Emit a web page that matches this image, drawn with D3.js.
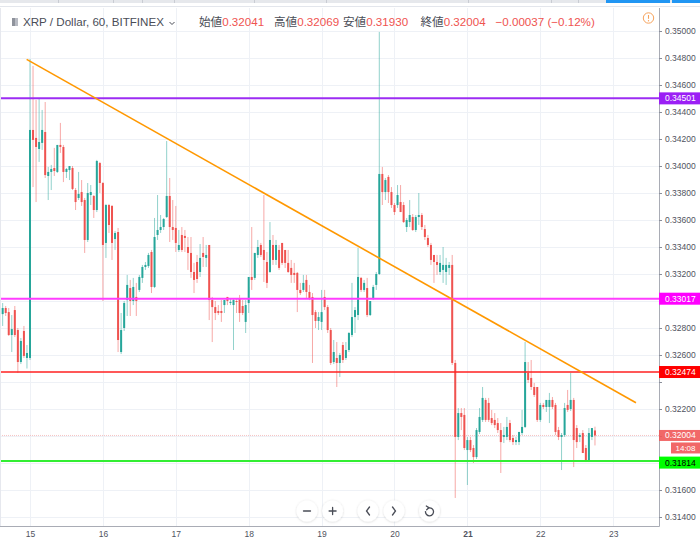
<!DOCTYPE html>
<html><head><meta charset="utf-8">
<script src="https://cdn.jsdelivr.net/npm/d3@7"></script>
<style>body{margin:0;background:#fff;overflow:hidden}svg{display:block}</style>
</head><body><svg id="c" width="700" height="545"></svg>
<script>
// ---------- DATA ----------
const startHour = -9; // hours relative to day 15 00:00 (first candle 14th 15:00)
const ohlc = [
[.32903,.32985,.32815,.32948],[.32948,.32963,.32889,.32911],[.32918,.32948,.32741,.32748],[.32748,.32896,.32622,.32792],
[.32933,.32963,.32733,.32748],[.32785,.32800,.32467,.32548],[.32548,.32726,.32533,.32704],[.32778,.32815,.32578,.32593],
[.32578,.32674,.32500,.32615],
[.32578,.34793,.32563,.34267],[.34267,.34741,.33844,.34193],[.34208,.34489,.33733,.34141],[.34126,.34496,.34030,.34178],
[.34171,.34415,.34119,.34267],[.34252,.34474,.33911,.33933],[.33926,.33993,.33748,.33956],[.33956,.34008,.33822,.33978],
[.33985,.34134,.33926,.33963],[.33956,.34156,.33948,.34156],[.34156,.34319,.34097,.34141],[.34141,.34156,.33881,.33956],
[.33956,.33985,.33911,.33978],[.33970,.33985,.33896,.34000],[.33985,.34000,.33822,.33830],[.33822,.33837,.33674,.33733],
[.33763,.33956,.33748,.33793],[.33807,.33896,.33704,.33733],[.33748,.33763,.33356,.33452],[.33452,.33874,.33437,.33800],
[.33785,.33859,.33711,.33807],[.33778,.33785,.33615,.33674],[.33674,.34045,.33659,.34037],[.34022,.34030,.33800,.33874],
[.33874,.33881,.33000,.33415],[.33430,.33719,.33319,.33711],[.33711,.33719,.33504,.33563],[.33704,.33711,.33304,.33430],
[.33459,.33519,.33378,.33504],[.33511,.33541,.32622,.32711],[.32622,.32911,.32607,.32785],[.32800,.33000,.32778,.32985],
[.33007,.33193,.32889,.33119],[.33096,.33156,.32889,.33000],[.33000,.33171,.32970,.33104],[.33030,.33134,.32889,.33000],
[.33082,.33193,.33067,.33178],[.33171,.33267,.33134,.33252],[.33252,.33289,.33230,.33267],[.33259,.33356,.33245,.33341],
[.33363,.33378,.33059,.33104],[.33104,.33615,.33096,.33474],[.33489,.33785,.33452,.33526],[.33526,.33637,.33504,.33548],
[.33548,.33615,.33526,.33607],[.33622,.34185,.33615,.33778],[.33778,.33911,.33437,.33548],[.33548,.33748,.33452,.33526],
[.33541,.33704,.33363,.33430],[.33378,.33526,.33363,.33415],[.33489,.33548,.33363,.33378],[.33482,.33526,.33363,.33467],
[.33400,.33474,.33230,.33356],[.33356,.33474,.33171,.33215],[.33215,.33282,.33059,.33156],[.33289,.33341,.33134,.33163],
[.33215,.33422,.33178,.33319],[.33356,.33474,.33252,.33326],[.33319,.33415,.33252,.33341],[.33415,.33415,.32859,.33007],
[.33007,.33030,.32696,.32955],[.32955,.33000,.32859,.32911],[.32926,.32970,.32896,.32911],[.32926,.33007,.32845,.32911],
[.32970,.33007,.32911,.33007],[.33030,.33030,.32970,.33000],[.32985,.33022,.32970,.32993],[.32970,.33022,.32637,.33007],
[.33000,.33022,.32911,.32993],[.33022,.33045,.32845,.32911],[.32963,.33007,.32896,.32911],[.32845,.33007,.32763,.32970],
[.32985,.33104,.32911,.33178],[.33178,.33548,.33082,.33156],[.33171,.33356,.33156,.33356],[.33341,.33452,.33319,.33400],
[.33415,.33430,.33326,.33341],[.33378,.33785,.33141,.33304],[.33289,.33363,.33096,.33134],[.33215,.33585,.33208,.33452],
[.33415,.33489,.33267,.33304],[.33304,.33452,.33267,.33415],[.33378,.33415,.33230,.33245],[.33430,.33430,.33267,.33282],
[.33378,.33378,.33245,.33282],[.33282,.33378,.33208,.33215],[.33245,.33304,.33134,.33193],[.33208,.33282,.33134,.33193],
[.33208,.33215,.32918,.33082],[.33082,.33134,.33045,.33059],[.33082,.33193,.33067,.33134],[.33156,.33193,.33022,.33067],
[.33067,.33119,.33007,.33022],[.33030,.33059,.32541,.32896],[.32918,.32933,.32800,.32852],[.32852,.32918,.32785,.32881],
[.32845,.33082,.32785,.32918],[.33030,.33082,.32933,.32955],[.32955,.32970,.32763,.32785],[.32785,.32800,.32526,.32541],
[.32548,.32711,.32533,.32622],[.32578,.32696,.32363,.32541],[.32541,.32615,.32437,.32600],[.32674,.32696,.32541,.32563],
[.32578,.32696,.32563,.32637],[.32637,.32770,.32622,.32763],[.32748,.33134,.32733,.32881],[.32881,.32955,.32763,.32933],
[.32896,.33393,.32859,.33178],[.33171,.33178,.33067,.33082],[.33082,.33156,.33067,.33134],[.33096,.33171,.32881,.32896],
[.32896,.32970,.32889,.33000],[.33022,.33119,.33007,.33104],[.33119,.33215,.33082,.33200],
[.33200,.34993,.33193,.33941],[.33941,.33993,.33711,.33807],[.33807,.33911,.33748,.33896],[.33919,.33933,.33726,.33807],
[.33807,.33844,.33689,.33711],[.33711,.33726,.33637,.33659],[.33711,.33859,.33689,.33785],[.33733,.33859,.33659,.33659],
[.33711,.33733,.33578,.33585],[.33548,.33615,.33511,.33600],[.33585,.33748,.33548,.33637],[.33622,.33644,.33519,.33526],
[.33526,.33637,.33511,.33622],[.33622,.33800,.33563,.33637],[.33637,.33652,.33526,.33548],[.33533,.33563,.33452,.33474],
[.33467,.33489,.33400,.33415],[.33415,.33430,.33267,.33304],[.33341,.33341,.33134,.33289],[.33289,.33341,.33193,.33267],
[.33215,.33341,.33193,.33282],[.33230,.33400,.33134,.33267],[.33215,.33319,.33119,.33267],[.33245,.33289,.33193,.33267],
[.33267,.33341,.32526,.32541],[.32541,.32563,.31541,.31993],
[.31993,.32207,.31970,.32170],[.32170,.32207,.32044,.32141],[.32156,.32207,.31896,.31911],[.31896,.31993,.31637,.31970],
[.31970,.31993,.31881,.31896],[.31911,.31933,.31800,.31844],[.31844,.32059,.31830,.32044],[.32030,.32207,.32015,.32141],
[.32119,.32363,.32104,.32282],[.32267,.32282,.32104,.32119],[.32245,.32282,.32104,.32119],[.32133,.32193,.32081,.32096],
[.32119,.32170,.32059,.32081],[.32096,.32133,.32022,.32044],[.32044,.32096,.31726,.31955],[.31993,.32067,.31948,.32007],
[.31993,.32141,.31970,.32067],[.32096,.32119,.31955,.31970],[.31985,.32007,.31933,.31955],[.31955,.31993,.31933,.31970],
[.31955,.32030,.31933,.32030],[.32022,.32193,.32007,.32067],
[.32067,.32696,.32059,.32548],[.32467,.32548,.32393,.32415],[.32430,.32563,.32341,.32363],[.32363,.32393,.32289,.32304],
[.32363,.32363,.32104,.32119],[.32119,.32245,.32104,.32230],[.32230,.32245,.32200,.32215],[.32215,.32267,.32178,.32267],
[.32215,.32319,.32096,.32267],[.32267,.32289,.32200,.32215],[.32230,.32245,.32007,.32030],[.32044,.32067,.31970,.31993],
[.31993,.32022,.31748,.32007],[.32007,.32245,.31993,.32207],[.32230,.32341,.32178,.32193],[.32200,.32467,.32185,.32267],
[.32267,.32282,.31770,.31970],[.32059,.32081,.31911,.31955],[.31993,.32022,.31955,.32007],[.32022,.32044,.31874,.31874],
[.31911,.31933,.31807,.31822],[.31822,.32059,.31807,.32022],[.31993,.32059,.31970,.32059],
[.32041,.32069,.31930,.32004]
];
const dayHours = [0,24,48,72,96,120,144,168,192];
const dayLabels = ["15","16","17","18","19","20","21","22","23"];
const priceTicks = [0.350,0.348,0.346,0.344,0.342,0.340,0.338,0.336,0.334,0.332,0.330,0.328,0.326,0.324,0.322,0.320,0.318,0.316,0.314];
const levelValues = [0.34501, 0.33017, 0.32474, 0.31814];
const trendPoints = [[-1.1, 0.34790], [199.5, 0.32246]];
const lastPrice = 0.32004;
const countdown = "14:08";
const headerTitle = "XRP / Dollar, 60, BITFINEX";
const headerNames = ["始値","高値","安値","終値"];
const headerValues = ["0.32041","0.32069","0.31930","0.32004"];
const headerChange = "\u22120.00037 (\u22120.12%)";

// ---------- STYLE ----------
const levelColors = ["#9c2cf3","#ff3dff","#ff2020","#33ee33"];
const labelFills = ["#9b1ff5","#ff00ff","#ff0000","#00ff00"];
const labelText = ["#fff","#fff","#fff","#000"];
const labelShift = [0,0,0,1.5];
const levelWidths = [2,2,1.6,2];
const UP="#26a69a", DOWN="#ef5350";

const svg = d3.select("#c");
const PL=0, PR=659, PT=8, PB=526;
const x = d3.scaleLinear().domain([-9.877, 207.08]).range([0, 659]);
const y = d3.scaleLinear().domain([0.314, 0.350]).range([517, 31]);

svg.append("defs").html(`<clipPath id="clip"><rect x="${PL}" y="${PT}" width="${PR-PL}" height="${PB-PT}"/></clipPath>
<filter id="sh" x="-50%" y="-50%" width="200%" height="200%"><feDropShadow dx="0" dy="0.5" stdDeviation="1.2" flood-color="#000" flood-opacity="0.18"/></filter>`);

// top strip
svg.append("rect").attr("x",0).attr("y",0).attr("width",700).attr("height",3).attr("fill","#e6e8ec");
[58,113,142,174,254,326,468,551,578].forEach(v=>svg.append("rect").attr("x",v).attr("y",0).attr("width",1).attr("height",3).attr("fill","#c9ccd3"));
svg.append("rect").attr("x",606).attr("y",0).attr("width",64).attr("height",3).attr("fill","#2196f3");
svg.append("rect").attr("x",672).attr("y",0).attr("width",28).attr("height",3).attr("fill","#2196f3");
svg.append("line").attr("x1",0).attr("x2",700).attr("y1",6.5).attr("y2",6.5).attr("stroke","#e3e6ec");

const plot = svg.append("g").attr("clip-path","url(#clip)");
// grid
plot.selectAll("line.hg").data(priceTicks).join("line").attr("class","hg")
  .attr("x1",PL).attr("x2",PR).attr("y1",d=>Math.round(y(d))+0.5).attr("y2",d=>Math.round(y(d))+0.5)
  .attr("stroke","#eef1f6");
plot.selectAll("line.vg").data(dayHours).join("line").attr("class","vg")
  .attr("y1",PT).attr("y2",PB).attr("x1",d=>Math.round(x(d))+0.5).attr("x2",d=>Math.round(x(d))+0.5)
  .attr("stroke","#eef1f6");

// current price dotted line
plot.append("line").attr("x1",PL).attr("x2",PR).attr("y1",y(lastPrice)).attr("y2",y(lastPrice))
  .attr("stroke","#f4b4b4").attr("stroke-dasharray","1,1").attr("opacity",0.8);

// candles
const candles = ohlc.map((d,i)=>({t:startHour+i,o:d[0],h:d[1],l:d[2],c:d[3]}));
plot.selectAll("line.wick").data(candles).join("line").attr("class","wick")
  .attr("x1",d=>x(d.t)).attr("x2",d=>x(d.t)).attr("y1",d=>y(d.h)).attr("y2",d=>y(d.l))
  .attr("stroke",d=>d.c>=d.o?UP:DOWN).attr("stroke-opacity",0.5).attr("stroke-width",1);
plot.selectAll("rect.body").data(candles).join("rect").attr("class","body")
  .attr("x",d=>x(d.t)-1).attr("width",2)
  .attr("y",d=>y(Math.max(d.o,d.c)))
  .attr("height",d=>Math.max(1,Math.abs(y(d.o)-y(d.c))))
  .attr("fill",d=>d.c>=d.o?UP:DOWN);

// level lines
plot.selectAll("line.lvl").data(levelValues).join("line").attr("class","lvl")
  .attr("x1",PL).attr("x2",PR).attr("y1",d=>y(d)).attr("y2",d=>y(d))
  .attr("stroke",(d,i)=>levelColors[i]).attr("stroke-width",(d,i)=>levelWidths[i]);

// trend line
plot.append("path").datum(trendPoints)
  .attr("d",d3.line().x(d=>x(d[0])).y(d=>y(d[1])))
  .attr("stroke","#ff9800").attr("stroke-width",1.6).attr("fill","none");

// borders
svg.append("line").attr("x1",0.5).attr("x2",0.5).attr("y1",PT).attr("y2",PB).attr("stroke","#e6e8ee");
svg.append("line").attr("x1",PR+0.5).attr("x2",PR+0.5).attr("y1",PT).attr("y2",PB+0.5).attr("stroke","#a9acb5");
svg.append("line").attr("x1",0).attr("x2",PR+0.5).attr("y1",PB+0.5).attr("y2",PB+0.5).attr("stroke","#a9acb5");

// price axis (tick labels hidden where a price label covers them, as on the reference)
const covered = v => levelValues.concat([lastPrice]).some(l => Math.abs(y(l)-y(v)) < 11);
const yAxis = d3.axisRight(y).tickValues(priceTicks).tickFormat(d3.format(".5f")).tickSize(3).tickPadding(3);
const ya = svg.append("g").attr("transform",`translate(${PR},0)`).call(yAxis);
ya.select(".domain").remove();
ya.selectAll(".tick line").attr("stroke","#8a8e99");
ya.selectAll(".tick text").attr("font-family","Liberation Sans, Arial, sans-serif").attr("font-size","8.5px").attr("fill","#50535e")
  .style("display",d=>covered(d)?"none":null);

// time axis
const xAxis = d3.axisBottom(x).tickValues(dayHours).tickFormat((d,i)=>dayLabels[i]).tickSize(0).tickPadding(5);
const xa = svg.append("g").attr("transform",`translate(0,${PB})`).call(xAxis);
xa.select(".domain").remove();
xa.selectAll(".tick text").attr("font-family","Liberation Sans, Arial, sans-serif").attr("font-size","8.5px").attr("fill","#50535e")
  .attr("font-weight",d=>d===144?"bold":"normal");

// level labels
levelValues.forEach((v,i)=>{
  const cy=y(v)+labelShift[i];
  svg.append("rect").attr("x",PR).attr("y",cy-6).attr("width",41).attr("height",12).attr("fill",labelFills[i]);
  svg.append("text").attr("x",PR+6).attr("y",cy+3).text(d3.format(".5f")(v))
    .attr("font-family","Liberation Sans, Arial, sans-serif").attr("font-size","8.5px").attr("fill",labelText[i]);
});
// last price label + countdown
{
  const cy=y(lastPrice);
  svg.append("rect").attr("x",PR).attr("y",cy-5.5).attr("width",41).attr("height",11).attr("fill","#ef5858").attr("opacity",0.9);
  svg.append("text").attr("x",PR+6).attr("y",cy+3).text(d3.format(".5f")(lastPrice))
    .attr("font-family","Liberation Sans, Arial, sans-serif").attr("font-size","8.5px").attr("fill","#fff");
  svg.append("rect").attr("x",671).attr("y",cy+7).attr("width",29).attr("height",11).attr("fill","#ef5858").attr("opacity",0.9);
  svg.append("text").attr("x",685.5).attr("y",cy+15.5).attr("text-anchor","middle").text(countdown)
    .attr("font-family","Liberation Sans, Arial, sans-serif").attr("font-size","8px").attr("fill","#fff");
}

// header
const hf = "Liberation Sans, Arial, 'Noto Sans CJK JP', sans-serif";
svg.append("rect").attr("x",12).attr("y",18).attr("width",6).attr("height",8).attr("fill","#b8bbc3");
svg.append("rect").attr("x",12).attr("y",18).attr("width",3).attr("height",8).attr("fill","#8f939c");
svg.append("text").attr("x",23).attr("y",26).text(headerTitle).attr("font-family",hf).attr("font-size","11.6px").attr("fill","#4a4d57");
svg.append("path").attr("d","M169.5,22 L172,24.5 L174.5,22").attr("stroke","#4a4d57").attr("fill","none").attr("stroke-width",1);
const hx=[199,274,343,420.5];
headerNames.forEach((n,i)=>{
  const t=svg.append("text").attr("x",hx[i]).attr("y",26).attr("font-size","11.6px").attr("font-family",hf);
  t.append("tspan").text(n).attr("fill","#4a4d57").attr("font-family","'Noto Sans CJK JP', sans-serif");
  t.append("tspan").text(headerValues[i]).attr("fill","#ef5350");
});
svg.append("text").attr("x",495.5).attr("y",26).text(headerChange).attr("font-family",hf).attr("font-size","11.6px").attr("fill","#ef5350");
svg.append("circle").attr("cx",648.5).attr("cy",18).attr("r",5.2).attr("fill","none").attr("stroke","#f7a35c").attr("stroke-width",1);
svg.append("line").attr("x1",648.5).attr("x2",648.5).attr("y1",15).attr("y2",18.8).attr("stroke","#f7a35c").attr("stroke-width",1.1);
svg.append("circle").attr("cx",648.5).attr("cy",20.7).attr("r",0.7).attr("fill","#f7a35c");

// nav buttons
const bx=[307,332.6,368,394,429.5], by=511;
bx.forEach(cx=>svg.append("circle").attr("cx",cx).attr("cy",by).attr("r",10.5).attr("fill","#fff").attr("filter","url(#sh)"));
const ic = svg.append("g").attr("stroke","#4a4d57").attr("stroke-width",1.3).attr("fill","none").attr("stroke-linecap","round");
ic.append("path").attr("d",`M${bx[0]-3.5},${by} H${bx[0]+3.5}`);
ic.append("path").attr("d",`M${bx[1]-3.5},${by} H${bx[1]+3.5} M${bx[1]},${by-3.5} V${by+3.5}`);
ic.append("path").attr("d",`M${bx[2]+1.5},${by-4} L${bx[2]-1.5},${by} L${bx[2]+1.5},${by+4}`);
ic.append("path").attr("d",`M${bx[3]-1.5},${by-4} L${bx[3]+1.5},${by} L${bx[3]-1.5},${by+4}`);
{
  const cx=bx[4], r=4;
  const arc=d3.arc()({innerRadius:r,outerRadius:r,startAngle:-0.5,endAngle:Math.PI*1.55});
  ic.append("path").attr("d",arc).attr("transform",`translate(${cx},${by+0.8})`);
  ic.append("path").attr("d",`M${cx-3.2},${by-5} L${cx-0.6},${by-3.4} L${cx-2.8},${by-1.2}`);
}
</script></body></html>
